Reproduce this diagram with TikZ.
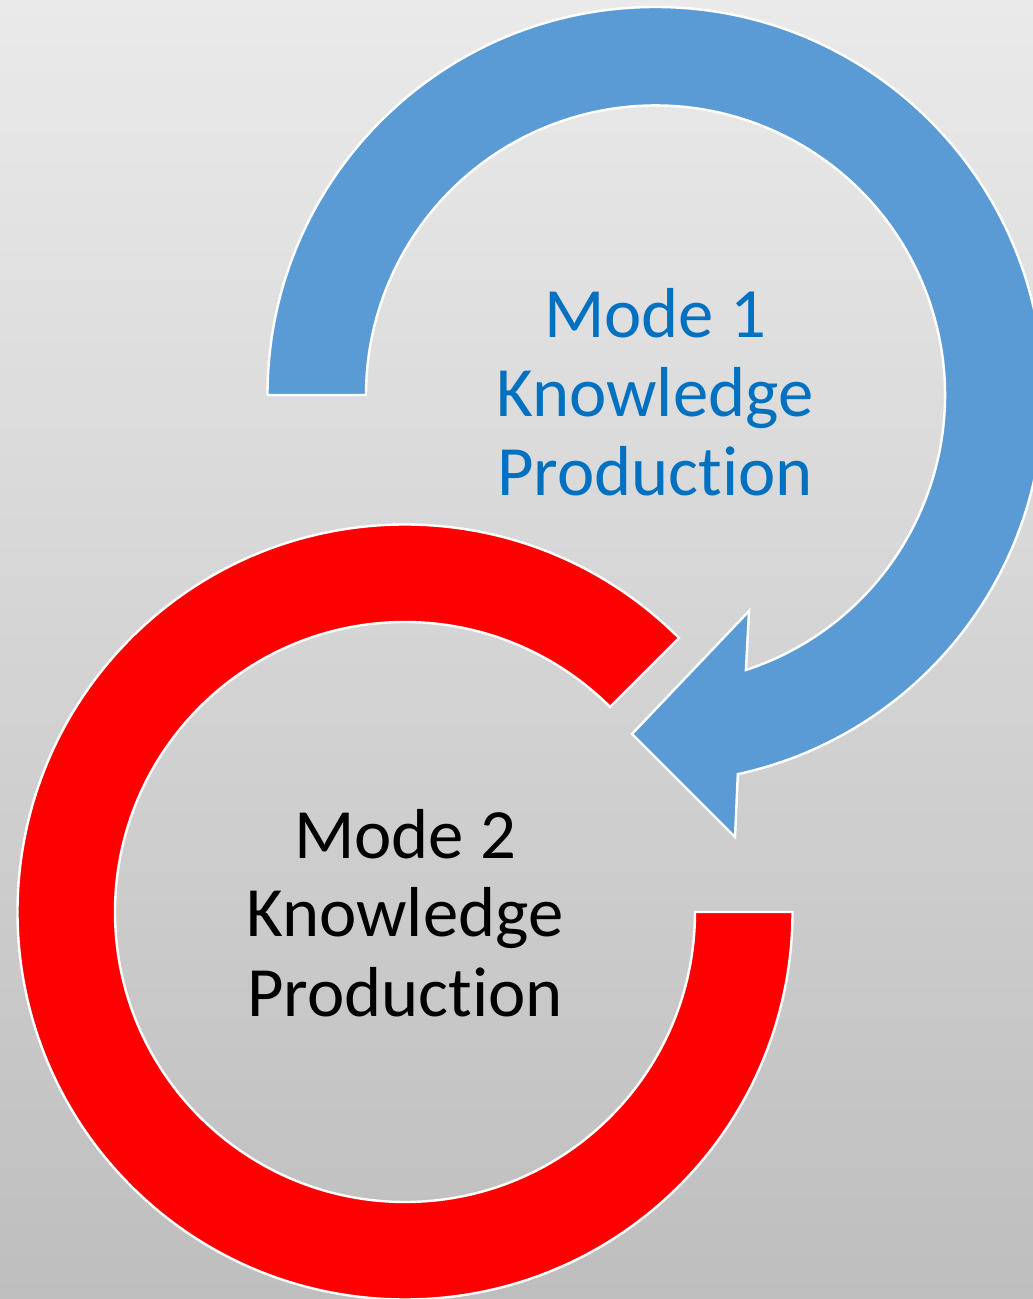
\documentclass[tikz,border=0pt]{standalone}
\usepackage{fontspec}
\setmainfont{Carlito}[Ligatures={NoCommon}]
\usetikzlibrary{calc}
\definecolor{bgtop}{RGB}{234,234,234}
\definecolor{bgmid}{RGB}{222,222,222}
\definecolor{bgbot}{RGB}{190,190,190}
\definecolor{arcblue}{RGB}{91,155,213}
\definecolor{arcred}{RGB}{255,0,0}
\definecolor{txtblue}{RGB}{0,112,192}
\begin{document}
\begin{tikzpicture}[x=1pt,y=1pt,
  ring/.style={draw=white, line width=2.4pt, line join=miter},
  lbl/.style={font=\fontsize{70.7}{78}\selectfont, anchor=base, inner sep=0pt}]
\useasboundingbox (0,0) rectangle (1033,1299);
\shade[top color=bgtop, middle color=bgmid, bottom color=bgbot] (0,0) rectangle (1033,1299);
\coordinate (bc) at (655.5,904);
\coordinate (rc) at (405,387);
% red ring
\filldraw[ring, fill=arcred] ($(rc)+(45:387.5)$) arc[start angle=45, end angle=360, radius=387.5]
  -- ($(rc)+(0:290)$) arc[start angle=360, end angle=45, radius=290] -- cycle;
% blue circular arrow
\filldraw[ring, fill=arcblue] ($(bc)+(180:388)$) arc[start angle=180, end angle=-77.75, radius=388]
  -- (735,462) -- (632,565) -- (749,688)
  -- ($(bc)+(-71.8:289.5)$) arc[start angle=-71.8, end angle=180, radius=289.5] -- cycle;
% labels
\node[lbl, text=txtblue] (m1a) at (655,961) {Mode 1};
\node[lbl, text=txtblue] (m1b) at (655,882) {Knowledge};
\node[lbl, text=txtblue] (m1c) at (655,803) {Production};
\node[lbl, text=black] (m2a) at (405,440) {Mode 2};
\node[lbl, text=black] (m2b) at (405,362) {Knowledge};
\node[lbl, text=black] (m2c) at (405,282) {Production};
\end{tikzpicture}
\end{document}
